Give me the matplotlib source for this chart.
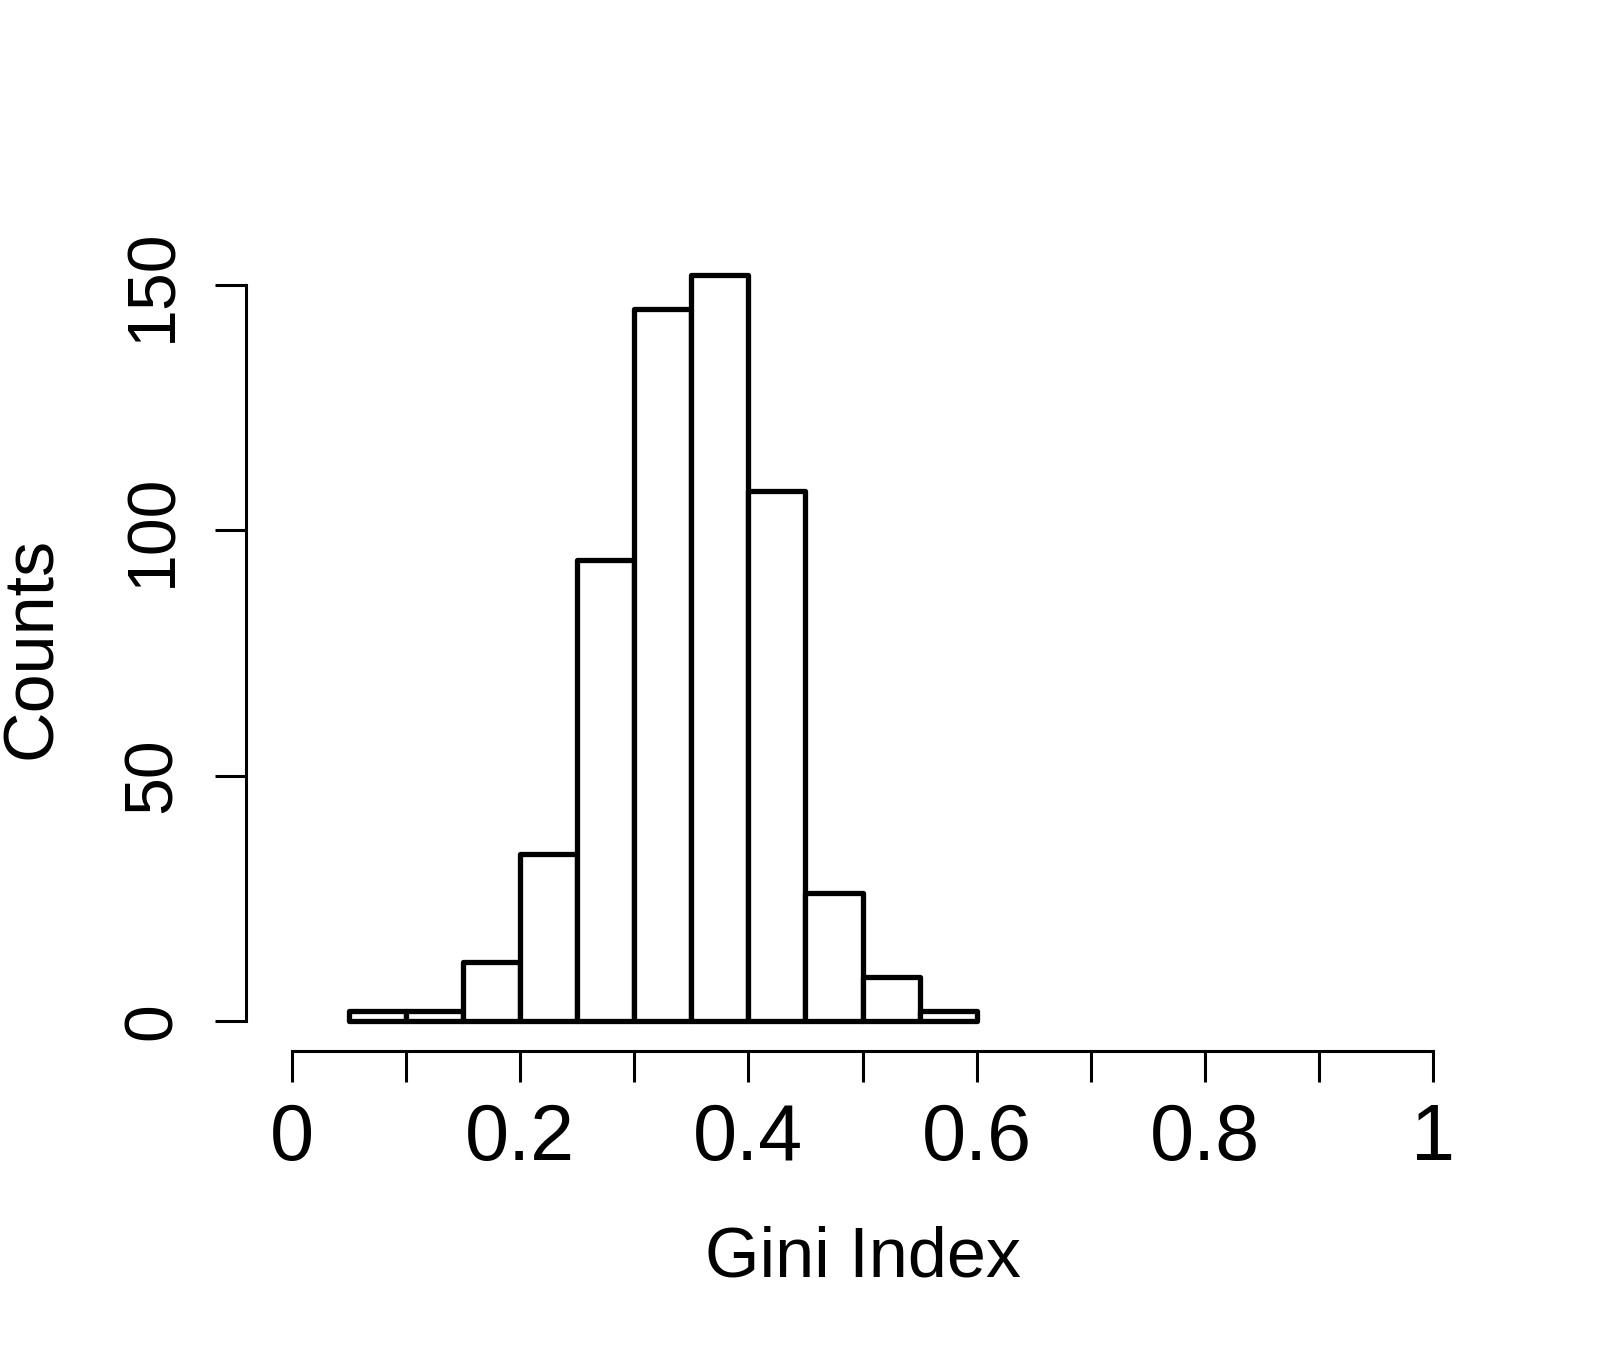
import matplotlib
matplotlib.use('Agg')
import matplotlib.pyplot as plt
import numpy as np

# histogram of Gini index values (bin edges and counts)
bin_edges = [0.05, 0.10, 0.15, 0.20, 0.25, 0.30, 0.35, 0.40, 0.45, 0.50, 0.55, 0.60]
counts = [2, 2, 12, 34, 94, 145, 152, 108, 26, 9, 2]
x_ticks = [0, 0.1, 0.2, 0.3, 0.4, 0.5, 0.6, 0.7, 0.8, 0.9, 1.0]
x_labels = ['0', '', '0.2', '', '0.4', '', '0.6', '', '0.8', '', '1']
y_ticks = [0, 50, 100, 150]

plt.rcParams['font.family'] = ['Liberation Sans', 'DejaVu Sans']

fig = plt.figure(figsize=(16.06, 13.58), dpi=100)
ax = fig.add_axes([0.1534, 0.2262, 0.7673, 0.5932])

lefts = np.array(bin_edges[:-1])
widths = np.diff(bin_edges)
ax.bar(lefts, counts, width=widths, align='edge', color='white',
       edgecolor='black', linewidth=3.8, joinstyle='round')

# R-like plot region: 4% padding around the data range
ax.set_xlim(-0.04, 1.04)
ax.set_ylim(-0.04 * 152, 152 * 1.04)

for side in ['top', 'right']:
    ax.spines[side].set_visible(False)
ax.spines['left'].set_bounds(0, 150)
ax.spines['bottom'].set_bounds(0, 1)
for side in ['left', 'bottom']:
    ax.spines[side].set_linewidth(2.2)

ax.set_xticks(x_ticks)
ax.set_xticklabels(x_labels)
ax.set_yticks(y_ticks)
ax.set_yticklabels([str(v) for v in y_ticks], rotation=90, va='center')
ax.tick_params(axis='x', length=22, width=2.2, labelsize=57, pad=15)
ax.tick_params(axis='y', length=22, width=2.2, labelsize=49, pad=22)

ax.set_xlabel('Gini Index', fontsize=50.5, labelpad=35)
ax.set_ylabel('Counts', fontsize=50.5, labelpad=40)

plt.savefig('out.png', dpi=100)
plt.close()
